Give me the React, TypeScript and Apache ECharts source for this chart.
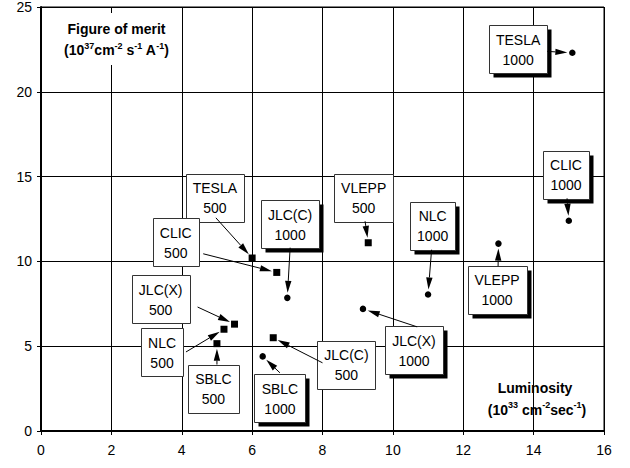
import React, { useEffect, useRef } from 'react';
import * as echarts from 'echarts';

const FONT = '"Liberation Sans", Arial, Helvetica, sans-serif';

// Collider names (same order for both energies)
const colliders = ['TESLA', 'CLIC', 'JLC(X)', 'NLC', 'SBLC', 'JLC(C)', 'VLEPP'];

// 500 GeV machines (squares)
const lum500 = [6.0, 6.7, 5.5, 5.2, 5.0, 6.6, 9.3];
const merit500 = [10.2, 9.35, 6.3, 6.0, 5.15, 5.5, 11.1];

// 1000 GeV machines (circles)
const lum1000 = [15.1, 15.0, 9.15, 11.0, 6.3, 7.0, 13.0];
const merit1000 = [22.3, 12.4, 7.2, 8.05, 4.4, 7.85, 11.05];

// Label box centres (data units)
const boxX500 = [4.94, 3.83, 3.4, 3.44, 4.9, 8.68, 9.17];
const boxY500 = [13.74, 11.12, 7.78, 4.65, 2.5, 3.91, 13.76];
const boxX1000 = [13.56, 14.92, 10.6, 11.13, 6.79, 7.08, 12.96];
const boxY1000 = [22.5, 15.12, 4.76, 12.09, 1.94, 12.19, 8.32];

// Arrow tails (data units)
const tailX500 = [4.97, 4.61, 4.45, 4.12, 5.0, 8.0, 9.21];
const tailY500 = [12.57, 10.45, 7.31, 4.66, 3.92, 4.02, 12.37];
const tailX1000 = [14.39, 14.95, 10.69, 11.1, 6.79, 7.08, 12.99];
const tailY1000 = [22.38, 13.72, 6.14, 10.69, 3.43, 10.81, 9.72];

const xMin = 0, xMax = 16, xStep = 2;
const yMin = 0, yMax = 25, yStep = 5;

type Ann = { bx: number; by: number; tx: number; ty: number; px: number; py: number; l1: string; l2: string; shadow: boolean };

const annotations: Ann[] = [
  ...colliders.map((n, i) => ({ bx: boxX500[i], by: boxY500[i], tx: tailX500[i], ty: tailY500[i], px: lum500[i], py: merit500[i], l1: n, l2: '500', shadow: false })),
  ...colliders.map((n, i) => ({ bx: boxX1000[i], by: boxY1000[i], tx: tailX1000[i], ty: tailY1000[i], px: lum1000[i], py: merit1000[i], l1: n, l2: '1000', shadow: true })),
];

let ctx: CanvasRenderingContext2D | null = null;
function textWidth(s: string, font: string) {
  if (!ctx) ctx = document.createElement('canvas').getContext('2d');
  if (!ctx) return s.length * 8;
  ctx.font = font;
  return ctx.measureText(s).width;
}

export default function App() {
  const ref = useRef<HTMLDivElement>(null);
  useEffect(() => {
    document.body.style.margin = '0';
    if (!ref.current) return;
    const chart = echarts.init(ref.current, null, { renderer: 'svg' });
    const labelFont = '14px ' + FONT;
    const GAP = 5, HL = 12, HW = 3.2;

    const option: any = {
      animation: false,
      backgroundColor: '#fff',
      grid: { left: 41, top: 6, width: 563, height: 425, show: true, borderColor: '#000', borderWidth: 1, backgroundColor: 'transparent' },
      xAxis: {
        type: 'value', min: xMin, max: xMax, interval: xStep,
        axisLine: { show: true, lineStyle: { color: '#000', width: 2 } },
        axisTick: { show: true, inside: false, length: 4, lineStyle: { color: '#000', width: 1 } },
        splitLine: { show: true, lineStyle: { color: '#000', width: 1 } },
        axisLabel: { color: '#000', fontSize: 14, fontFamily: FONT, margin: 12 },
      },
      yAxis: {
        type: 'value', min: yMin, max: yMax, interval: yStep,
        axisLine: { show: true, lineStyle: { color: '#000', width: 2 } },
        axisTick: { show: true, inside: false, length: 4, lineStyle: { color: '#000', width: 1 } },
        splitLine: { show: true, lineStyle: { color: '#000', width: 1 } },
        axisLabel: { color: '#000', fontSize: 14, fontFamily: FONT, margin: 9 },
      },
      graphic: [
        { type: 'rect', z: 100, shape: { x: 60, y: 13, width: 114, height: 52 }, style: { fill: '#fff' } },
        {
          type: 'text', z: 101, x: 116.5, y: 28.5,
          style: { text: 'Figure of merit', fill: '#000', font: 'bold 14px ' + FONT, align: 'center', verticalAlign: 'middle' },
        },
        {
          type: 'text', z: 101, x: 116.5, y: 49,
          style: {
            text: '{n|(10}{s|37}{n|cm}{s|-2}{n| s}{s|-1}{n| A}{s|-1}{n|)}',
            align: 'center', verticalAlign: 'middle',
            rich: {
              n: { fill: '#000', font: 'bold 14px ' + FONT, lineHeight: 16, verticalAlign: 'bottom' },
              s: { fill: '#000', font: 'bold 9px ' + FONT, lineHeight: 10, verticalAlign: 'top' },
            },
          },
        },
        {
          type: 'text', z: 101, x: 535, y: 387.5,
          style: { text: 'Luminosity', fill: '#000', font: 'bold 14px ' + FONT, align: 'center', verticalAlign: 'middle' },
        },
        {
          type: 'text', z: 101, x: 537, y: 408.5,
          style: {
            text: '{n|(10}{s|33}{n| cm}{s|-2}{n|sec}{s|-1}{n|)}',
            align: 'center', verticalAlign: 'middle',
            rich: {
              n: { fill: '#000', font: 'bold 14px ' + FONT, lineHeight: 16, verticalAlign: 'bottom' },
              s: { fill: '#000', font: 'bold 9px ' + FONT, lineHeight: 10, verticalAlign: 'top' },
            },
          },
        },
      ],
      series: [
        {
          type: 'custom',
          clip: false,
          z: 3,
          data: annotations.map((a) => [a.bx, a.by]),
          encode: { x: 0, y: 1 },
          renderItem: (params: any, api: any) => {
            const a = annotations[params.dataIndex];
            const c = api.coord([a.bx, a.by]);
            const t = api.coord([a.tx, a.ty]);
            const p = api.coord([a.px, a.py]);
            const w = Math.round(Math.max(textWidth(a.l1, labelFont), textWidth(a.l2, labelFont)) + 14);
            const h = 48;
            const x0 = Math.round(c[0] - w / 2) + 0.5;
            const y0 = Math.round(c[1] - h / 2) + 0.5;
            const dx = p[0] - t[0], dy = p[1] - t[1];
            const len = Math.hypot(dx, dy) || 1;
            const ux = dx / len, uy = dy / len;
            const tip = [p[0] - ux * GAP, p[1] - uy * GAP];
            const base = [tip[0] - ux * HL, tip[1] - uy * HL];
            const nx = -uy, ny = ux;
            const children: any[] = [];
            if (a.shadow) {
              children.push({ type: 'rect', shape: { x: x0 + 4, y: y0 + 4, width: w, height: h }, style: { fill: '#000' } });
            }
            children.push({ type: 'rect', shape: { x: x0, y: y0, width: w, height: h }, style: { fill: '#fff', stroke: '#333', lineWidth: 1 } });
            children.push({
              type: 'text', x: c[0], y: c[1] + 0.5,
              style: { text: a.l1 + '\n' + a.l2, fill: '#000', font: labelFont, align: 'center', verticalAlign: 'middle', lineHeight: 20 },
            });
            children.push({ type: 'line', shape: { x1: t[0], y1: t[1], x2: base[0], y2: base[1] }, style: { stroke: '#000', lineWidth: 1 } });
            children.push({
              type: 'polygon',
              shape: { points: [tip, [base[0] + nx * HW, base[1] + ny * HW], [base[0] - nx * HW, base[1] - ny * HW]] },
              style: { fill: '#000' },
            });
            return { type: 'group', children };
          },
        },
        {
          type: 'scatter', name: '500', z: 5,
          symbol: 'rect', symbolSize: 7,
          itemStyle: { color: '#000', opacity: 1 },
          data: lum500.map((x, i) => [x, merit500[i]]),
        },
        {
          type: 'scatter', name: '1000', z: 5,
          symbol: 'circle', symbolSize: 6.5,
          itemStyle: { color: '#000', opacity: 1 },
          data: lum1000.map((x, i) => [x, merit1000[i]]),
        },
      ],
    };
    chart.setOption(option);
    return () => chart.dispose();
  }, []);
  return <div ref={ref} style={{ width: 630, height: 468 }} />;
}
